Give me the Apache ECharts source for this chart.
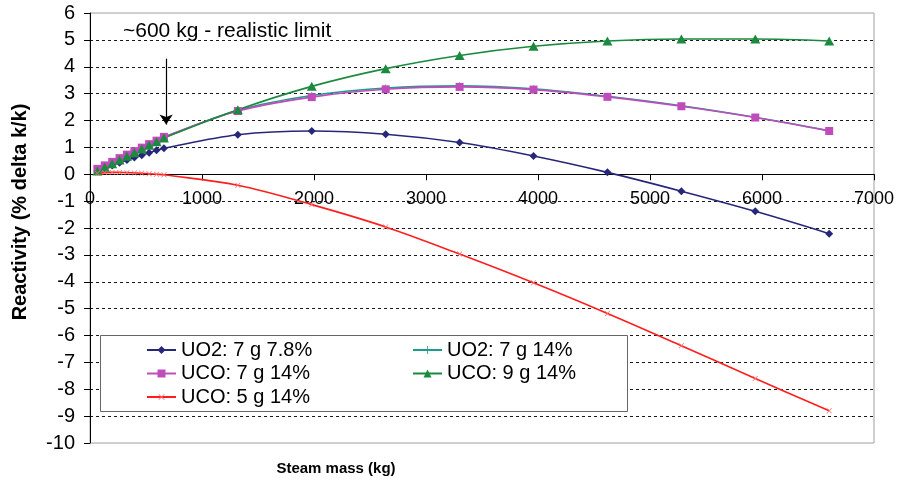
<!DOCTYPE html>
<html>
<head>
<meta charset="utf-8">
<script src="https://cdn.jsdelivr.net/npm/echarts@6/dist/echarts.min.js"></script>
<style>
  html, body { margin: 0; padding: 0; background: #fff; }
  #chart { width: 902px; height: 487px; }
</style>
</head>
<body>
<div id="chart"></div>
<script>
// Steam mass sampled (kg)
const steamMass = [66, 132, 198, 264, 330, 396, 462, 528, 594, 660,
                   1320, 1980, 2640, 3300, 3960, 4620, 5280, 5940, 6600];

// Reactivity (% delta k/k) per fuel case
const uo2_7g_78 = [0.11, 0.22, 0.33, 0.43, 0.53, 0.62, 0.71, 0.80, 0.89, 0.97,
                   1.47, 1.61, 1.49, 1.18, 0.68, 0.07, -0.63, -1.38, -2.21];
const uo2_7g_14 = [0.19, 0.32, 0.45, 0.58, 0.71, 0.84, 0.97, 1.10, 1.23, 1.37,
                   2.38, 2.93, 3.21, 3.29, 3.18, 2.90, 2.55, 2.12, 1.62];
const uco_7g_14 = [0.20, 0.33, 0.46, 0.60, 0.73, 0.86, 0.99, 1.12, 1.25, 1.39,
                   2.35, 2.87, 3.16, 3.25, 3.15, 2.88, 2.53, 2.11, 1.61];
const uco_9g_14 = [0.12, 0.26, 0.39, 0.53, 0.67, 0.80, 0.94, 1.08, 1.21, 1.35,
                   2.40, 3.27, 3.93, 4.42, 4.76, 4.96, 5.03, 5.03, 4.96];
const uco_5g_14 = [0.04, 0.06, 0.07, 0.07, 0.06, 0.05, 0.04, 0.02, 0.00, -0.02,
                   -0.41, -1.13, -1.96, -2.97, -4.04, -5.18, -6.38, -7.60, -8.80];

const seriesNames = ['UO2: 7 g 7.8%', 'UO2: 7 g 14%', 'UCO: 7 g 14%', 'UCO: 9 g 14%', 'UCO: 5 g 14%'];

// Annotation: realistic steam ingress limit
const limitText = '~600 kg - realistic limit';
const limitArrow = { x: 680, from: 4.3, to: 1.85 };

const axisTitleX = 'Steam mass (kg)';
const axisTitleY = 'Reactivity (% delta k/k)';

const X_MIN = 0, X_MAX = 7000, X_STEP = 1000;
const Y_MIN = -10, Y_MAX = 6, Y_STEP = 1;

const FONT = '"Liberation Sans", Arial, sans-serif';

const plusPath = 'path://M4.5,0H5.5V4.5H10V5.5H5.5V10H4.5V5.5H0V4.5H4.5Z';

function pairs(ys) { return steamMass.map((x, i) => [x, ys[i]]); }

// Plot box in pixels
const GRID = { left: 90, right: 28, top: 13, bottom: 44 };
const plotHeight = 487 - GRID.top - GRID.bottom;
// Lift the x axis from the plot's bottom edge up to the zero line
const xAxisLift = plotHeight * (0 - Y_MIN) / (Y_MAX - Y_MIN);

const legendText = { color: '#000', fontFamily: FONT, fontSize: 20 };

const chart = echarts.init(document.getElementById('chart'));

chart.setOption({
  backgroundColor: '#fff',
  animation: false,
  grid: Object.assign({
    show: true, borderColor: '#a0a0a0', borderWidth: 1, backgroundColor: 'transparent'
  }, GRID),
  xAxis: {
    type: 'value', min: X_MIN, max: X_MAX, interval: X_STEP,
    position: 'bottom', offset: -xAxisLift,
    axisLine: { show: true, onZero: false, lineStyle: { color: '#000', width: 1 } },
    axisTick: { show: true, length: 6, lineStyle: { color: '#000' } },
    axisLabel: { color: '#000', fontFamily: FONT, fontSize: 18, margin: 16,
                 formatter: v => String(v) },
    splitLine: { show: false }
  },
  yAxis: {
    type: 'value', min: Y_MIN, max: Y_MAX, interval: Y_STEP,
    axisLine: { show: true, lineStyle: { color: '#000', width: 1 } },
    axisTick: { show: true, length: 6, lineStyle: { color: '#000' } },
    axisLabel: { color: '#000', fontFamily: FONT, fontSize: 20, margin: 15 },
    splitLine: {
      show: true, showMinLine: false, showMaxLine: false,
      lineStyle: { color: '#1a1a1a', width: 1, type: [3, 3] }
    }
  },
  legend: [
    {
      data: [seriesNames[0], seriesNames[2], seriesNames[4]],
      orient: 'vertical', left: 141, top: 335, itemGap: 3.5,
      itemWidth: 29, itemHeight: 10, textStyle: legendText,
      selectedMode: false, z: 6
    },
    {
      data: [seriesNames[1], seriesNames[3]],
      orient: 'vertical', left: 407, top: 335, itemGap: 3.5,
      itemWidth: 29, itemHeight: 10, textStyle: legendText,
      selectedMode: false, z: 6
    }
  ],
  graphic: [
    {
      type: 'rect', z: 5, left: 100, top: 335,
      shape: { width: 527, height: 76 },
      style: { fill: '#fff', stroke: '#666', lineWidth: 1 }
    },
    {
      type: 'text', z: 6, left: 123, top: 21,
      style: { text: limitText, fill: '#000', font: '21px ' + FONT }
    },
    {
      type: 'text', z: 6, x: 336, y: 469,
      style: { text: axisTitleX, fill: '#000', font: 'bold 15px ' + FONT,
               textAlign: 'center', textVerticalAlign: 'middle' }
    },
    {
      type: 'text', z: 6, x: 20, y: 212, rotation: Math.PI / 2,
      style: { text: axisTitleY, fill: '#000', font: 'bold 20px ' + FONT,
               textAlign: 'center', textVerticalAlign: 'middle' }
    }
  ],
  series: [
    {
      name: seriesNames[0], type: 'line', data: pairs(uo2_7g_78), smooth: 0.35,
      symbol: 'diamond', symbolSize: [8, 8],
      itemStyle: { color: '#27277a' }, lineStyle: { color: '#27277a', width: 1.6 },
      markLine: {
        silent: true, symbol: ['none', 'arrow'], symbolSize: 10,
        label: { show: false },
        lineStyle: { color: '#000', width: 1.2, type: 'solid' },
        data: [[{ coord: [limitArrow.x, limitArrow.from] }, { coord: [limitArrow.x, limitArrow.to] }]]
      }
    },
    {
      name: seriesNames[1], type: 'line', data: pairs(uo2_7g_14), smooth: 0.35,
      symbol: plusPath, symbolSize: 7,
      itemStyle: { color: '#1e9c8a' }, lineStyle: { color: '#1e9c8a', width: 1.6 }
    },
    {
      name: seriesNames[2], type: 'line', data: pairs(uco_7g_14), smooth: 0.35,
      symbol: 'rect', symbolSize: 8,
      itemStyle: { color: '#c04cbc' }, lineStyle: { color: '#c04cbc', width: 1.6 }
    },
    {
      name: seriesNames[3], type: 'line', data: pairs(uco_9g_14), smooth: 0.35,
      symbol: 'triangle', symbolSize: [10, 9],
      itemStyle: { color: '#1b8a3e' }, lineStyle: { color: '#1b8a3e', width: 1.6 }
    },
    {
      name: seriesNames[4], type: 'line', data: pairs(uco_5g_14), smooth: 0.35,
      symbol: plusPath, symbolRotate: 45, symbolSize: 7,
      itemStyle: { color: '#ff6a6a' }, lineStyle: { color: '#ff1e1e', width: 1.6 }
    }
  ]
});
</script>
</body>
</html>
